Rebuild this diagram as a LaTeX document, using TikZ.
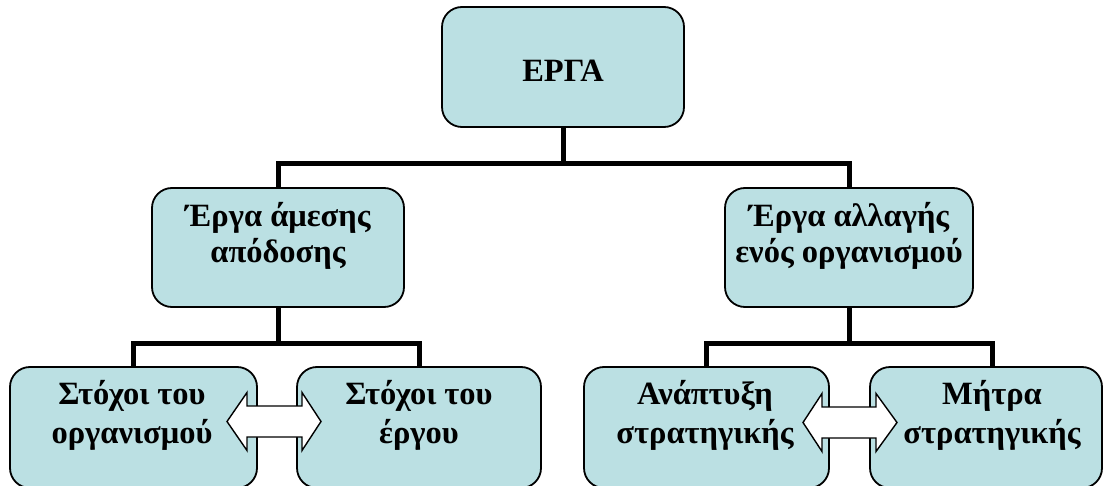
\documentclass[tikz,border=0pt]{standalone}
\usepackage{fontspec}
\setmainfont{Liberation Serif}
\usetikzlibrary{calc}
\definecolor{boxfill}{RGB}{187,224,227}
\tikzset{
  box/.style={draw=black, line width=1.8pt, rounded corners=20pt, fill=boxfill, inner sep=0pt},
  lbl/.style={align=center, inner sep=0pt, font=\bfseries\fontsize{32.5}{#1}\selectfont},
  lbl/.default=39,
  link/.style={line width=5pt, line join=miter},
  twoway/.style={draw=black, line width=1.4pt, fill=white, line join=miter},
}
\newcommand{\firstline}{\rule{0pt}{25pt}}
\begin{document}
\begin{tikzpicture}[x=1pt,y=-1pt]
\useasboundingbox (0,0) rectangle (1107,486);

% boxes
\node[box, minimum width=242pt, minimum height=120pt] (top) at (563,67) {};
\node[box, minimum width=252pt, minimum height=119pt] (midL) at (278,247.5) {};
\node[box, minimum width=248pt, minimum height=119pt] (midR) at (849,247.5) {};
\node[box, minimum width=247pt, minimum height=121pt] (b1) at (133.5,427.5) {};
\node[box, minimum width=244pt, minimum height=121pt] (b2) at (419,427.5) {};
\node[box, minimum width=245pt, minimum height=121pt] (b3) at (706.5,427.5) {};
\node[box, minimum width=232pt, minimum height=121pt] (b4) at (986,427.5) {};

% labels
\node[lbl, anchor=base] (t0) at (563,82) {ΕΡΓΑ};
\node[lbl=36, anchor=north] (tmL) at (278,201) {\firstline Έργα άμεσης\\απόδοσης};
\node[lbl=36, anchor=north] (tmR) at (849,201) {\firstline Έργα αλλαγής\\ενός οργανισμού};
\node[lbl, anchor=north] (t1) at (132,379) {\firstline Στόχοι του\\οργανισμού};
\node[lbl, anchor=north] (t2) at (419,379) {\firstline Στόχοι του\\έργου};
\node[lbl, anchor=north] (t3) at (705,379) {\firstline Ανάπτυξη\\στρατηγικής};
\node[lbl, anchor=north] (t4) at (992,379) {\firstline Μήτρα\\στρατηγικής};

% tree connectors
\coordinate (jT) at (563,164);
\coordinate (jL) at (278,343);
\coordinate (jR) at (849,343);
\draw[link] (top.south) -- (jT);
\draw[link] (midL.north) |- (jT) -| (midR.north);
\draw[link] (midL.south) -- (jL);
\draw[link] (b1.north) |- (jL) -| (b2.north);
\draw[link] (midR.south) -- (jR);
\draw[link] (b3.north) |- (jR) -| (b4.north -| t4.north);

% two-way block arrows between the lower boxes
\draw[twoway] (227,421.5) -- (247,392.5) -- (247,406) -- (302,406) -- (302,392.5)
  -- (321,421.5) -- (302,450.5) -- (302,437) -- (247,437) -- (247,450.5) -- cycle;
\draw[twoway] (803,422.5) -- (822,393.5) -- (822,407) -- (876,407) -- (876,393.5)
  -- (897,422.5) -- (876,451.5) -- (876,438) -- (822,438) -- (822,451.5) -- cycle;
\end{tikzpicture}
\end{document}
